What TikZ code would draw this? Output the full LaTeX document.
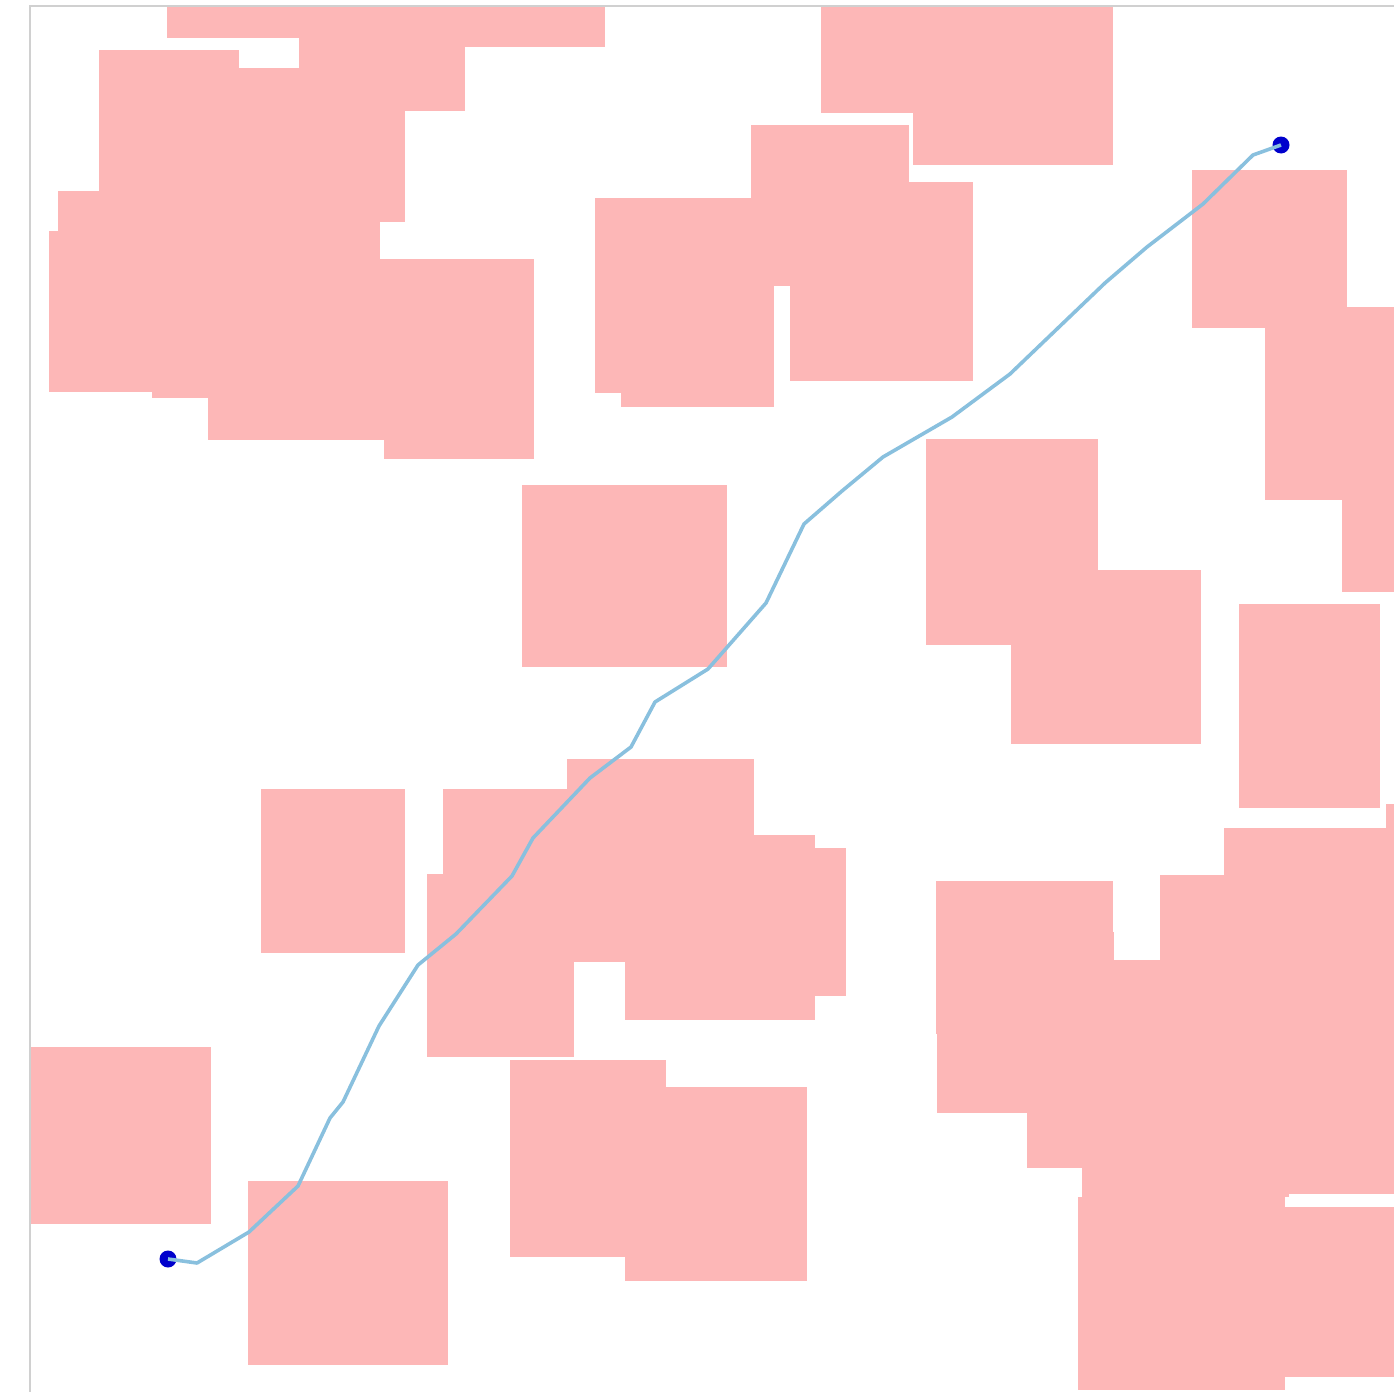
\documentclass[tikz,border=0pt]{standalone}
\usepackage{xcolor}
\usepackage{tikz}

\definecolor{obstaclepink}{RGB}{253,183,183}
\definecolor{routeblue}{RGB}{137,192,222}
\definecolor{pointblue}{RGB}{0,0,204}
\definecolor{framegray}{RGB}{208,208,208}

\begin{document}
\begin{tikzpicture}[
  x=0.5pt, y=-0.5pt,
  obstacle/.style={fill=obstaclepink},
  route/.style={draw=routeblue, line width=1.8pt, line join=round},
  waypoint/.style={circle, fill=pointblue, inner sep=0pt, minimum size=8.5pt},
  frame/.style={draw=framegray, line width=0.8pt}
]
\useasboundingbox (0,0) rectangle (1394,1392);
\foreach \xa/\ya/\xb/\yb in {
  167/6/299/38, 299/6/605/47, 299/38/465/111, 99/50/239/68, 99/68/405/222,
  99/222/380/259, 58/191/99/231, 49/231/380/392, 152/259/208/398,
  208/259/384/440, 384/259/534/459,
  821/6/1113/113, 913/113/1113/165, 595/198/774/393, 621/393/774/407,
  751/125/909/286, 909/182/973/381, 790/286/909/381,
  1192/170/1347/328, 1265/307/1394/500, 1342/500/1394/592,
  522/485/727/667, 926/439/1098/645, 1011/570/1201/744, 1239/604/1380/808,
  261/789/405/953, 567/759/754/835, 443/789/754/962, 427/874/574/1057,
  625/835/815/1020, 754/848/846/996, 510/1060/666/1257, 625/1087/807/1281,
  30/1047/211/1224, 248/1181/448/1365,
  1386/804/1394/828, 1224/828/1394/1194, 1160/875/1394/1194,
  936/881/1113/1034, 937/932/1114/1113, 1027/960/1394/1168,
  1082/1000/1289/1197, 1078/1197/1285/1390, 1224/1207/1394/1377}
  \fill[obstacle] (\xa,\ya) rectangle (\xb,\yb);

\node[waypoint] (start) at (168,1259) {};
\node[waypoint] (goal) at (1281,145) {};
\draw[route] (start.center) -- (197,1263) -- (249,1232) -- (298,1186)
  -- (330,1118) -- (343,1102) -- (379,1026) -- (418,965) -- (456,934)
  -- (512,876) -- (533,838) -- (590,778) -- (631,747) -- (655,702)
  -- (708,669) -- (766,603) -- (804,524) -- (842,491) -- (883,457)
  -- (952,417) -- (1010,374) -- (1058,328) -- (1105,283) -- (1147,247)
  -- (1203,204) -- (1253,155) -- (goal.center);

\draw[frame] (30,1392) -- (30,6) -- (1394,6);
\end{tikzpicture}
\end{document}
